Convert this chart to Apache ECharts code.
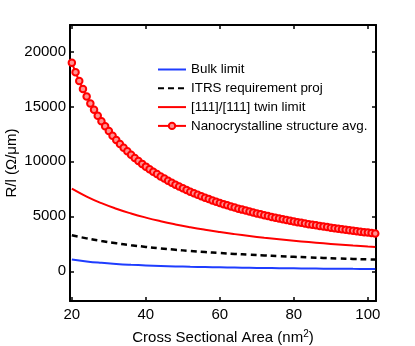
<!DOCTYPE html>
<html>
<head>
<meta charset="utf-8">
<script src="https://cdn.jsdelivr.net/npm/echarts@6/dist/echarts.min.js"></script>
<style>
  html, body { margin: 0; padding: 0; background: #fff; }
  #main { width: 415px; height: 346px; }
</style>
</head>
<body>
<div id="main"></div>
<script>
var chart = echarts.init(document.getElementById('main'));

// sample grid of the nanocrystalline curve (one marker per nm^2)
var areaFine = [20, 21, 22, 23, 24, 25, 26, 27, 28, 29, 30, 31, 32, 33, 34, 35, 36, 37, 38, 39,
    40, 41, 42, 43, 44, 45, 46, 47, 48, 49, 50, 51, 52, 53, 54, 55, 56, 57, 58, 59,
    60, 61, 62, 63, 64, 65, 66, 67, 68, 69, 70, 71, 72, 73, 74, 75, 76, 77, 78, 79,
    80, 81, 82, 83, 84, 85, 86, 87, 88, 89, 90, 91, 92, 93, 94, 95, 96, 97, 98, 99,
    100, 101, 102]
var nanoAvg = [18970, 18100, 17300, 16570, 15900, 15270, 14690, 14150, 13650, 13190,
    12750, 12330, 11950, 11580, 11240, 10910, 10600, 10310, 10040, 9770,
    9520, 9280, 9050, 8840, 8630, 8430, 8240, 8060, 7880, 7710,
    7550, 7390, 7240, 7100, 6960, 6820, 6700, 6570, 6450, 6330,
    6220, 6110, 6000, 5900, 5800, 5700, 5610, 5520, 5430, 5340,
    5260, 5180, 5100, 5020, 4950, 4870, 4800, 4730, 4670, 4600,
    4540, 4470, 4410, 4350, 4290, 4240, 4180, 4130, 4070, 4020,
    3970, 3920, 3870, 3820, 3780, 3730, 3690, 3640, 3600, 3560,
    3520, 3480, 3440]

// coarser grid for the smooth curves
var areaCoarse = [20, 24, 28, 32, 36, 40, 44, 48, 52, 56, 60, 64, 68, 72, 76, 80, 84, 88, 92, 96, 100, 102]
var bulkLimit = [1075, 896, 768, 672, 597, 538, 489, 448, 413, 384, 358, 336, 316, 299, 283, 269, 256, 244, 234, 224, 215, 211]
var itrsProj = [3273, 2994, 2757, 2553, 2376, 2221, 2083, 1961, 1851, 1753, 1663, 1582, 1507, 1439, 1376, 1318, 1264, 1214, 1168, 1124, 1084, 1064]
var twinLimit = [7515, 6798, 6200, 5694, 5261, 4885, 4556, 4266, 4008, 3777, 3570, 3382, 3211, 3055, 2912, 2781, 2659, 2547, 2442, 2345, 2254, 2211]

var xTicks = [20, 40, 60, 80, 100]
var yTicks = [0, 5000, 10000, 15000, 20000]
var seriesNames = ['Bulk limit', 'ITRS requirement proj', '[111]/[111] twin limit', 'Nanocrystalline structure avg.']

function pairs(xs, ys) {
    return xs.map(function(x, i) { return [x, ys[i]]; });
}

var font = 'Liberation Sans, Arial, sans-serif'
var axisLine = { show: true, onZero: false, lineStyle: { color: '#000', width: 2 } }

function xAx(pos, labels) {
    return {
        type: 'value', position: pos, min: 19.5, max: 102.2,
        axisLine: axisLine,
        axisTick: { show: true, inside: true, length: 4, customValues: xTicks, lineStyle: { color: '#000', width: 1.5 } },
        axisLabel: { show: labels, customValues: xTicks, margin: 6, color: '#000', fontSize: 15, fontFamily: font,
            formatter: function(v) { return String(v); } },
        splitLine: { show: false }
    }
}

function yAx(pos, labels) {
    return {
        type: 'value', position: pos, min: -2700, max: 22400,
        axisLine: axisLine,
        axisTick: { show: true, inside: true, length: 4, customValues: yTicks, lineStyle: { color: '#000', width: 1.5 } },
        axisLabel: { show: labels, customValues: yTicks, margin: 4, color: '#000', fontSize: 15, fontFamily: font,
            formatter: function(v) { return String(v); } },
        splitLine: { show: false }
    }
}

var xBottom = xAx('bottom', true)
xBottom.name = 'Cross Sectional Area (nm{sup|2})'
xBottom.nameLocation = 'middle'
xBottom.nameGap = 28
xBottom.nameMoveOverlap = false
xBottom.nameTextStyle = {
    color: '#000', fontSize: 15, fontFamily: font,
    rich: { sup: { fontSize: 10, fontFamily: font, color: '#000', verticalAlign: 'top', padding: [0, 0, 8, 0] } }
}
var xTop = xAx('top', false)

var yLeft = yAx('left', true)
yLeft.name = 'R/l (Ω/μm)'
yLeft.nameLocation = 'middle'
yLeft.nameGap = 51
yLeft.nameMoveOverlap = false
yLeft.nameTextStyle = { color: '#000', fontSize: 15, fontFamily: font }
var yRight = yAx('right', false)

var noDot = { color: 'rgba(0,0,0,0)', borderWidth: 0 }

chart.setOption({
    backgroundColor: '#fff',
    animation: false,
    grid: { left: 70, right: 39, top: 25, bottom: 45, containLabel: false, outerBoundsMode: 'none' },
    legend: {
        orient: 'vertical',
        left: 157,
        top: 63,
        padding: 0,
        itemWidth: 28,
        itemHeight: 8,
        itemGap: 5.8,
        textStyle: { color: '#000', fontSize: 13.4, fontFamily: font },
        data: seriesNames
    },
    xAxis: [xBottom, xTop],
    yAxis: [yLeft, yRight],
    series: [{
        name: seriesNames[0],
        type: 'line',
        smooth: true,
        symbol: 'none',
        lineStyle: { color: '#1f3dff', width: 2 },
        itemStyle: noDot,
        data: pairs(areaCoarse, bulkLimit)
    }, {
        name: seriesNames[1],
        type: 'line',
        smooth: true,
        symbol: 'none',
        lineStyle: { color: '#000', width: 2.5, type: [6, 4] },
        itemStyle: noDot,
        data: pairs(areaCoarse, itrsProj)
    }, {
        name: seriesNames[2],
        type: 'line',
        smooth: true,
        symbol: 'none',
        lineStyle: { color: '#ff0000', width: 2 },
        itemStyle: noDot,
        data: pairs(areaCoarse, twinLimit)
    }, {
        name: seriesNames[3],
        type: 'line',
        symbol: 'circle',
        symbolSize: 6.5,
        lineStyle: { color: '#ff0000', width: 2 },
        itemStyle: { color: '#ff9090', borderColor: '#ff0000', borderWidth: 2 },
        data: pairs(areaFine, nanoAvg)
    }]
});
</script>
</body>
</html>
